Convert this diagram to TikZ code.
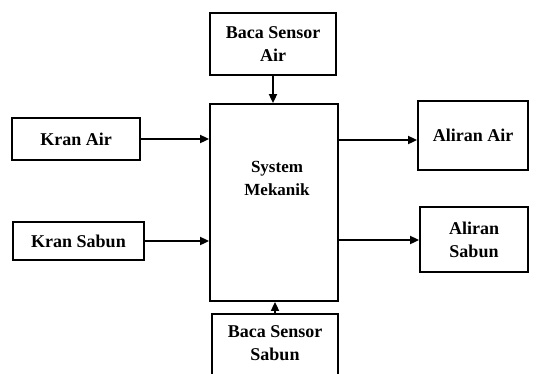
\documentclass[tikz,border=0pt]{standalone}
\usepackage{fontspec}
\setmainfont{Liberation Serif}
\usetikzlibrary{arrows.meta}
\begin{document}
\begin{tikzpicture}[x=1pt,y=-1pt,
  blk/.style={draw,line width=1.8pt,inner sep=0pt,font=\bfseries\fontsize{18}{23}\selectfont,align=center},
  conn/.style={line width=1.8pt,-{Triangle[length=9pt,width=8pt]}}]
\useasboundingbox (0,0) rectangle (538,373);
\begin{scope}
\clip (0,0) rectangle (538,373);
\node[blk,minimum width=126pt,minimum height=62pt] (top) at (273,44) {Baca Sensor\\Air};
\node[draw,line width=1.8pt,inner sep=0pt,minimum width=128pt,minimum height=197pt] (sys) at (274,202.5) {};
\node[align=center,font=\bfseries\fontsize{17}{23}\selectfont] (systxt) at (277,178) {System\\Mekanik};
\node[blk,minimum width=128pt,minimum height=42pt] (ka) at (76,139) {Kran Air};
\node[blk,minimum width=131pt,minimum height=38pt] (ks) at (78.5,241) {Kran Sabun};
\node[blk,minimum width=110pt,minimum height=69pt] (aa) at (473,135.5) {Aliran Air};
\node[blk,minimum width=108pt,minimum height=65pt] (as) at (474,239.5) {Aliran\\Sabun};
\node[blk,minimum width=126pt,minimum height=80pt,anchor=north] (bot) at (275,313) {};
\node[font=\bfseries\fontsize{18}{23}\selectfont,align=center] (bottxt) at (275,343) {Baca Sensor\\Sabun};
\end{scope}
\draw[conn] (top.south) -- (sys.north -| top.south);
\draw[conn] (ka.east) -- (ka.east -| sys.west);
\draw[conn] (ks.east) -- (ks.east -| sys.west);
\draw[conn] (sys.east |- 0,140) -- (aa.west |- 0,140);
\draw[conn] (sys.east |- 0,240) -- (as.west |- 0,240);
\draw[conn] (bot.north) -- (sys.south -| bot.north);
\end{tikzpicture}
\end{document}
